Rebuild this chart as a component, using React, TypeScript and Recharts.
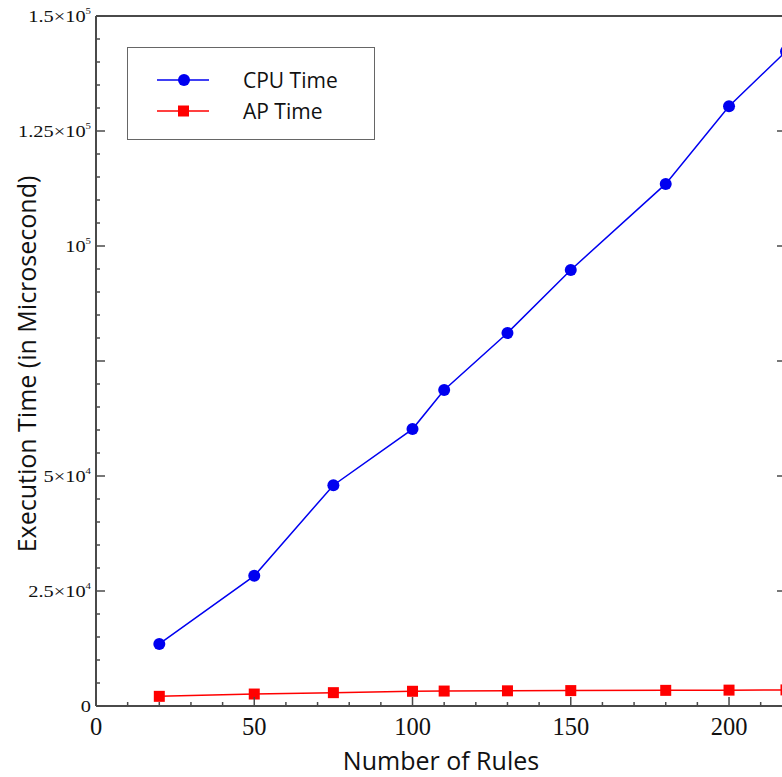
import { LineChart, Line, XAxis, YAxis, Legend } from 'recharts';

// values
const rules = [20, 50, 75, 100, 110, 130, 150, 180, 200, 218];
const cpuTime = [13500, 28300, 48000, 60200, 68700, 81100, 94800, 113500, 130400, 142300];
const apTime = [2100, 2600, 2900, 3200, 3250, 3300, 3350, 3400, 3450, 3500];

const xTicks = [0, 10, 20, 30, 40, 50, 60, 70, 80, 90, 100, 110, 120, 130, 140, 150, 160, 170, 180, 190, 200, 210];
const xLabels = [0, 50, 100, 150, 200];
const yTicks = [
  0, 5000, 10000, 15000, 20000, 25000, 30000, 35000, 40000, 45000, 50000, 55000, 60000, 65000, 70000, 75000,
  80000, 85000, 90000, 95000, 100000, 105000, 110000, 115000, 120000, 125000, 130000, 135000, 140000, 145000, 150000,
];
// [mantissa, exponent] for the labelled y ticks (7.5x10^4 has no label in the original)
const yLabels: Record<number, [string, string]> = {
  0: ['0', ''],
  25000: ['2.5×10', '4'],
  50000: ['5×10', '4'],
  100000: ['10', '5'],
  125000: ['1.25×10', '5'],
  150000: ['1.5×10', '5'],
};

const chartData = rules.map((r, i) => ({ rules: r, cpu: cpuTime[i], ap: apTime[i] }));

const AXIS = '#4a4a4a';
const BLUE = '#0000f0';
const RED = '#ff0000';
const SERIF = '"Liberation Serif", "Times New Roman", serif';
const SANS = '"Open Sans", sans-serif';

const isMajorY = (v: number) => v % 25000 === 0;
const isMajorX = (v: number) => v % 50 === 0;

function LeftTick({ x, y, payload }: any) {
  const v = payload.value;
  const major = isMajorY(v);
  const lab = yLabels[v];
  return (
    <g>
      <line x1={x} x2={x + (major ? 9 : 4)} y1={y} y2={y} stroke={AXIS} strokeWidth={1.5} />
      {lab && (
        // the original y labels are drawn a little wider than plain Times
        <text
          transform={`translate(${x - 5}, ${y + 6}) scale(1.2, 1)`}
          textAnchor="end"
          fontFamily={SERIF}
          fontSize={17}
          fill="#111"
        >
          {lab[0]}
          {lab[1] && (
            <tspan dy={-8} fontSize={9}>
              {lab[1]}
            </tspan>
          )}
        </text>
      )}
    </g>
  );
}

function RightTick({ x, y, payload }: any) {
  const major = isMajorY(payload.value);
  return <line x1={x} x2={x - (major ? 9 : 4)} y1={y} y2={y} stroke={AXIS} strokeWidth={1.5} />;
}

function BottomTick({ x, y, payload }: any) {
  const v = payload.value;
  const major = isMajorX(v);
  return (
    <g>
      <line x1={x} x2={x} y1={y} y2={y - (major ? 9 : 4)} stroke={AXIS} strokeWidth={1.5} />
      {xLabels.includes(v) && (
        <text x={x} y={y + 29} textAnchor="middle" fontFamily={SERIF} fontSize={24.5} fill="#111">
          {v}
        </text>
      )}
    </g>
  );
}

function TopTick({ x, y, payload }: any) {
  const major = isMajorX(payload.value);
  return <line x1={x} x2={x} y1={y} y2={y + (major ? 9 : 4)} stroke={AXIS} strokeWidth={1.5} />;
}

function SquareDot(props: any) {
  const { cx, cy, index } = props;
  return <rect key={`sq-${index}`} x={cx - 5.5} y={cy - 5.5} width={11} height={11} fill={RED} />;
}

function XTitle({ viewBox }: any) {
  return (
    <text
      x={viewBox.x + viewBox.width / 2}
      y={viewBox.y + 64}
      textAnchor="middle"
      fontFamily={SANS}
      fontSize={25}
      fill="#111"
    >
      Number of Rules
    </text>
  );
}

function YTitle() {
  const cy = 364;
  return (
    <text
      x={27}
      y={cy}
      dy="0.35em"
      transform={`rotate(-90, 27, ${cy})`}
      textAnchor="middle"
      fontFamily={SANS}
      fontSize={25}
      fill="#111"
    >
      Execution Time (in Microsecond)
    </text>
  );
}

function LegendBox() {
  const row = (label: string, color: string, square: boolean) => (
    <div style={{ display: 'flex', alignItems: 'center', height: 31 }}>
      <svg width={56} height={14} style={{ marginLeft: 29 }}>
        <line x1={0} x2={52} y1={7} y2={7} stroke={color} strokeWidth={1.5} />
        {square ? <rect x={21} y={1.5} width={11} height={11} fill={color} /> : <circle cx={27} cy={7} r={6} fill={color} />}
      </svg>
      <span style={{ marginLeft: 30, fontFamily: SANS, fontSize: 21, color: '#111' }}>{label}</span>
    </div>
  );
  return (
    <div
      style={{
        width: 248,
        height: 93,
        border: '1px solid #666',
        boxSizing: 'border-box',
        background: '#fff',
        paddingTop: 16,
      }}
    >
      {row('CPU Time', BLUE, false)}
      {row('AP Time', RED, true)}
    </div>
  );
}

export default function App() {
  return (
    <div style={{ width: 782, height: 777, overflow: 'hidden', background: '#fff' }}>
      <style>{'body { margin: 0; }'}</style>
      <LineChart width={796} height={777} data={chartData} margin={{ top: 15, right: 9, left: 0, bottom: 0 }}>
        <XAxis
          xAxisId="b"
          dataKey="rules"
          type="number"
          domain={[0, 218]}
          ticks={xTicks}
          interval={0}
          height={71}
          tickSize={0}
          tickMargin={0}
          tick={<BottomTick />}
          axisLine={{ stroke: AXIS, strokeWidth: 2 }}
          label={<XTitle />}
        />
        <XAxis
          xAxisId="t"
          orientation="top"
          type="number"
          domain={[0, 218]}
          allowDataOverflow
          ticks={xTicks}
          interval={0}
          height={1}
          tickSize={0}
          tickMargin={0}
          tick={<TopTick />}
          axisLine={{ stroke: AXIS, strokeWidth: 2 }}
        />
        <YAxis
          yAxisId="l"
          type="number"
          domain={[0, 150000]}
          ticks={yTicks}
          interval={0}
          width={96}
          tickSize={0}
          tickMargin={0}
          tick={<LeftTick />}
          axisLine={{ stroke: AXIS, strokeWidth: 2 }}
          label={<YTitle />}
        />
        <YAxis
          yAxisId="r"
          orientation="right"
          type="number"
          domain={[0, 150000]}
          allowDataOverflow
          ticks={yTicks}
          interval={0}
          width={1}
          tickSize={0}
          tickMargin={0}
          tick={<RightTick />}
          axisLine={{ stroke: AXIS, strokeWidth: 2 }}
        />
        <Legend
          layout="vertical"
          align="center"
          verticalAlign="middle"
          content={() => <LegendBox />}
          wrapperStyle={{ left: 127, top: 47, width: 248, height: 93 }}
        />
        <Line
          xAxisId="b"
          yAxisId="l"
          dataKey="ap"
          name="AP Time"
          stroke={RED}
          strokeWidth={1.5}
          dot={<SquareDot />}
          isAnimationActive={false}
        />
        <Line
          xAxisId="b"
          yAxisId="l"
          dataKey="cpu"
          name="CPU Time"
          stroke={BLUE}
          strokeWidth={1.5}
          dot={{ r: 6, fill: BLUE, stroke: 'none' }}
          isAnimationActive={false}
        />
      </LineChart>
    </div>
  );
}
